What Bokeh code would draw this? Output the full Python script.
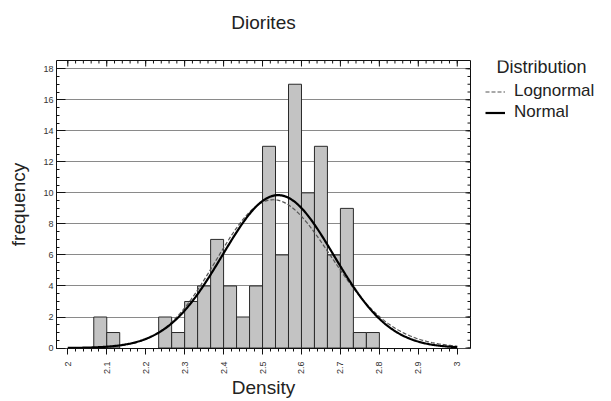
import numpy as np
from bokeh.plotting import figure
from bokeh.layouts import row, column
from bokeh.models import (ColumnDataSource, Range1d, SingleIntervalTicker,
                          Legend, LegendItem, Label)
from bokeh.embed import file_html
from bokeh.resources import INLINE

# ---- data ----
bin_left = [2.0667, 2.1, 2.2333, 2.2667, 2.3, 2.3333, 2.3667, 2.4, 2.4333, 2.4667,
            2.5, 2.5333, 2.5667, 2.6, 2.6333, 2.6667, 2.7, 2.7333, 2.7667]
counts = [2, 1, 2, 1, 3, 4, 7, 4, 2, 4, 13, 6, 17, 10, 13, 6, 9, 1, 1]
bin_width = 1.0 / 30.0
title_text = "Diorites"
x_label = "Density"
y_label = "frequency"
legend_title = "Distribution"
series_names = ["Lognormal", "Normal"]

# axis ticking
x_start, x_end, x_major, x_minor = 2.0, 3.0, 0.1, 0.02
y_start, y_end, y_major, y_minor = 0.0, 18.0, 2.0, 0.5

FONT = "Liberation Sans"
INK = "#111111"
TXT = "#222222"

# ---- fitted densities from the binned data ----
left = np.array(bin_left)
cnt = np.array(counts, dtype=float)
centers = left + bin_width / 2
n = cnt.sum()
mu = (cnt * centers).sum() / n
sd = np.sqrt((cnt * (centers - mu) ** 2).sum() / (n - 1))
lc = np.log(centers)
lmu = (cnt * lc).sum() / n
lsd = np.sqrt((cnt * (lc - lmu) ** 2).sum() / (n - 1))

xs = np.linspace(x_start, x_end, 400)
normal_y = n * bin_width * np.exp(-0.5 * ((xs - mu) / sd) ** 2) / (sd * np.sqrt(2 * np.pi))
lognorm_y = n * bin_width * np.exp(-0.5 * ((np.log(xs) - lmu) / lsd) ** 2) / (xs * lsd * np.sqrt(2 * np.pi))

bars = ColumnDataSource(dict(left=left, right=left + bin_width, top=cnt, bottom=np.zeros_like(cnt)))

# ---- title strip ----
tf = figure(width=475, height=40, output_backend="svg", toolbar_location=None,
            x_range=Range1d(0, 1), y_range=Range1d(0, 1),
            x_axis_location=None, y_axis_location=None,
            min_border_left=56, min_border_right=5, min_border_top=0, min_border_bottom=0)
tf.grid.visible = False
tf.outline_line_color = None
tf.background_fill_color = "white"
tf.border_fill_color = "white"
tf.add_layout(Label(x=0.5, y=18, x_units="data", y_units="screen", text=title_text,
                    text_font=FONT, text_font_size="19px", text_color=TXT,
                    text_baseline="middle", text_align="center"))

# ---- main plot ----
xr = Range1d(1.971, 3.034)
yr = Range1d(-0.03, 18.53)
p = figure(width=475, height=361, output_backend="svg", toolbar_location=None,
           x_range=xr, y_range=yr,
           min_border_left=56, min_border_right=5, min_border_top=20, min_border_bottom=51)
p.background_fill_color = "white"
p.border_fill_color = "white"
p.outline_line_color = INK
p.outline_line_width = 1

# grid
p.xgrid.visible = False
p.ygrid.ticker = SingleIntervalTicker(interval=y_major, num_minor_ticks=4)
p.ygrid.grid_line_color = "#8a8a8a"
p.ygrid.grid_line_width = 1

# axes
p.xaxis.ticker = SingleIntervalTicker(interval=x_major, num_minor_ticks=5)
p.yaxis.ticker = SingleIntervalTicker(interval=y_major, num_minor_ticks=4)
for ax in p.xaxis:
    ax.bounds = (x_start, x_end)
    ax.axis_label = x_label
    ax.axis_label_text_font = FONT
    ax.axis_label_text_font_size = "19px"
    ax.axis_label_text_font_style = "normal"
    ax.axis_label_text_color = TXT
    ax.axis_label_standoff = 0
    ax.major_label_orientation = np.pi / 2
    ax.major_label_text_font = FONT
    ax.major_label_text_font_size = "9px"
    ax.major_label_text_color = "#333333"
    ax.major_label_standoff = 7
    ax.major_tick_in = 0
    ax.major_tick_out = 6
    ax.minor_tick_in = 0
    ax.minor_tick_out = 3
    ax.axis_line_color = INK
    ax.major_tick_line_color = INK
    ax.minor_tick_line_color = INK
for ax in p.yaxis:
    ax.bounds = (y_start, y_end)
    ax.axis_label = y_label
    ax.axis_label_text_font = FONT
    ax.axis_label_text_font_size = "19px"
    ax.axis_label_text_font_style = "normal"
    ax.axis_label_text_color = TXT
    ax.axis_label_standoff = 11
    ax.major_label_text_font = FONT
    ax.major_label_text_font_size = "9px"
    ax.major_label_text_color = "#333333"
    ax.major_label_standoff = 3
    ax.major_tick_in = 9
    ax.major_tick_out = 0
    ax.minor_tick_in = 3
    ax.minor_tick_out = 0
    ax.axis_line_color = INK
    ax.major_tick_line_color = INK
    ax.minor_tick_line_color = INK

# inside ticks on the top and right edges of the frame
top_minor = np.linspace(x_start, x_end, int(round((x_end - x_start) / x_minor)) + 1)
top_major = np.linspace(x_start, x_end, int(round((x_end - x_start) / x_major)) + 1)
right_minor = np.linspace(y_start, y_end, int(round((y_end - y_start) / y_minor)) + 1)
right_major = np.linspace(y_start, y_end, int(round((y_end - y_start) / y_major)) + 1)
p.ray(x=top_minor, y=yr.end, length=3, length_units="screen", angle=-np.pi / 2,
      line_color=INK, line_width=1)
p.ray(x=top_major, y=yr.end, length=6, length_units="screen", angle=-np.pi / 2,
      line_color=INK, line_width=1)
p.ray(x=xr.end, y=right_minor, length=3, length_units="screen", angle=np.pi,
      line_color=INK, line_width=1)
p.ray(x=xr.end, y=right_major, length=5, length_units="screen", angle=np.pi,
      line_color=INK, line_width=1)

# bars
p.quad(left="left", right="right", top="top", bottom="bottom", source=bars,
       fill_color="#c3c3c3", line_color="#2a2a2a", line_width=1)

# curves
LOG_STYLE = dict(line_color="#555555", line_width=1.2, line_dash="4 2")
NORM_STYLE = dict(line_color="#000000", line_width=2.2)
p.line(xs, lognorm_y, **LOG_STYLE)
p.line(xs, normal_y, **NORM_STYLE)

# ---- legend panel (its frame aligns with the main frame) ----
lg = figure(width=136, height=361, output_backend="svg", toolbar_location=None,
            x_range=Range1d(0, 1), y_range=Range1d(0, 1),
            x_axis_location=None, y_axis_location=None,
            min_border=0)
lg.grid.visible = False
lg.outline_line_color = None
lg.background_fill_color = "white"
lg.border_fill_color = "white"
# same curves, outside this panel's visible range: they only feed the legend glyphs
lr_log = lg.line(xs, lognorm_y, **LOG_STYLE)
lr_norm = lg.line(xs, normal_y, **NORM_STYLE)
legend = Legend(items=[LegendItem(label=series_names[0], renderers=[lr_log]),
                       LegendItem(label=series_names[1], renderers=[lr_norm])],
                location=(10, 226), padding=0, margin=0, spacing=1,
                glyph_width=20, glyph_height=17, label_height=17, label_standoff=9,
                label_text_font=FONT, label_text_font_size="17px",
                label_text_color=TXT,
                background_fill_alpha=0, border_line_alpha=0)
lg.add_layout(legend, "center")
lg.add_layout(Label(x=21, y=282, x_units="screen", y_units="screen", text=legend_title,
                    text_font=FONT, text_font_size="18px", text_color=TXT,
                    text_baseline="middle", text_align="left"))

layout = column(tf, row(p, lg, spacing=0), spacing=0)
open("out.html", "w").write(file_html(layout, INLINE))
